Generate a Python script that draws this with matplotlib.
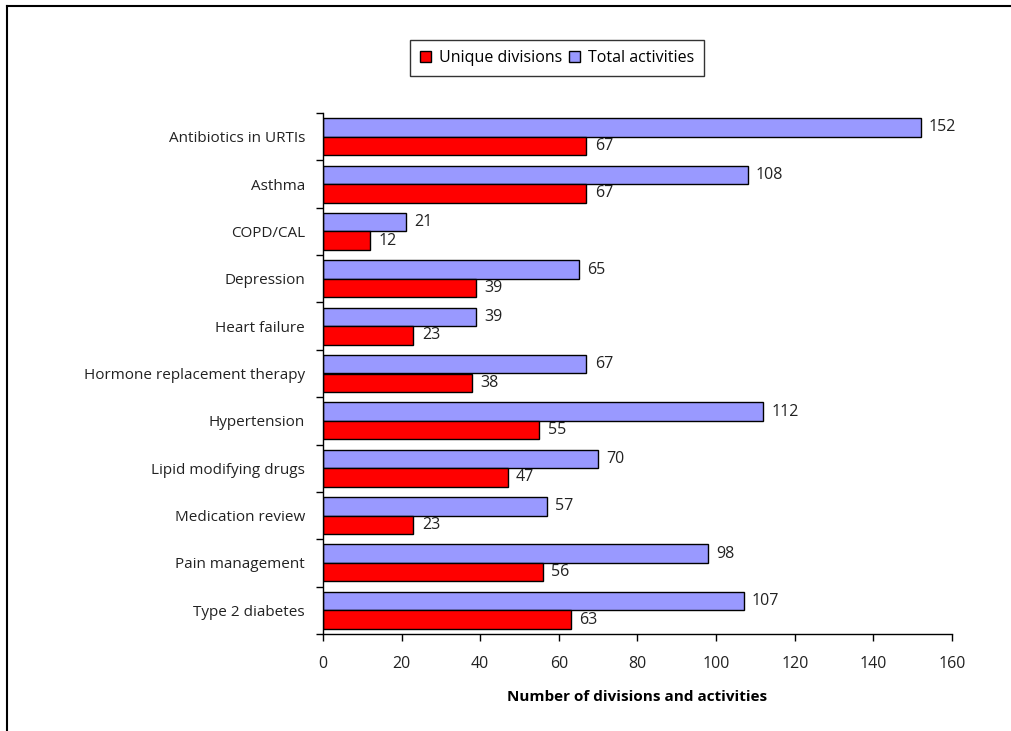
import matplotlib
matplotlib.use("Agg")
import matplotlib.pyplot as plt
from matplotlib.lines import Line2D
from matplotlib.patches import Patch
import numpy as np

categories = [
    "Antibiotics in URTIs",
    "Asthma",
    "COPD/CAL",
    "Depression",
    "Heart failure",
    "Hormone replacement therapy",
    "Hypertension",
    "Lipid modifying drugs",
    "Medication review",
    "Pain management",
    "Type 2 diabetes",
]
total_activities = [152, 108, 21, 65, 39, 67, 112, 70, 57, 98, 107]
unique_divisions = [67, 67, 12, 39, 23, 38, 55, 47, 23, 56, 63]
x_ticks = [0, 20, 40, 60, 80, 100, 120, 140, 160]

plt.rcParams["font.family"] = ["Open Sans", "DejaVu Sans"]
plt.rcParams["font.size"] = 11

W, H = 1012, 731
fig = plt.figure(figsize=(W / 100, H / 100), dpi=100)
ax = fig.add_axes([323 / W, 1 - 634 / H, (952 - 323) / W, (634 - 113) / H])

n = len(categories)
y = np.arange(n)
bh = 0.39
blue = "#9999FF"
red = "#FF0000"
text_col = "#222222"

ax.barh(y - bh / 2, total_activities, height=bh, color=blue, edgecolor="black", linewidth=1.0)
ax.barh(y + bh / 2, unique_divisions, height=bh, color=red, edgecolor="black", linewidth=1.0)

for yi, v in zip(y, total_activities):
    ax.annotate(str(v), (v, yi - bh / 2), xytext=(6, 0), textcoords="offset points",
                va="center", ha="left", fontsize=11.5, color=text_col)
for yi, v in zip(y, unique_divisions):
    ax.annotate(str(v), (v, yi + bh / 2), xytext=(6, 0), textcoords="offset points",
                va="center", ha="left", fontsize=11.5, color=text_col)

ax.set_xlim(0, 160)
ax.set_ylim(n - 0.5, -0.5)
ax.set_xticks(x_ticks)
ax.tick_params(axis="x", direction="out", length=5, width=1, pad=11, labelsize=11.5,
               labelcolor=text_col)

# category boundaries carry the tick marks, centres carry the labels
ax.set_yticks(np.arange(n + 1) - 0.5)
ax.set_yticklabels([])
ax.set_yticks(y, minor=True)
ax.set_yticklabels(categories, minor=True)
ax.tick_params(axis="y", which="major", direction="out", length=5, width=1)
ax.tick_params(axis="y", which="minor", length=0, pad=13, labelsize=11, labelcolor=text_col)

for side in ("top", "right"):
    ax.spines[side].set_visible(False)
for side in ("left", "bottom"):
    ax.spines[side].set_linewidth(1.0)

ax.set_xlabel("Number of divisions and activities", fontsize=11, fontweight="bold",
              labelpad=13)

handles = [
    Patch(facecolor=red, edgecolor="black", linewidth=1.0, label="Unique divisions"),
    Patch(facecolor=blue, edgecolor="black", linewidth=1.0, label="Total activities"),
]
leg = fig.legend(handles=handles, loc="center", bbox_to_anchor=(557 / W, 1 - 58 / H),
                 ncol=2, frameon=True, fancybox=False, edgecolor="black",
                 handlelength=0.7, handleheight=0.7, handletextpad=0.5,
                 columnspacing=0.4, borderpad=0.6, fontsize=11.5)
leg.get_frame().set_linewidth(1.0)

# outer frame lines along the left and top edges
fig.add_artist(Line2D([7 / W, 7 / W], [0, 1 - 6 / H], transform=fig.transFigure,
                      color="black", linewidth=1.5))
fig.add_artist(Line2D([7 / W, 1], [1 - 6 / H, 1 - 6 / H], transform=fig.transFigure,
                      color="black", linewidth=1.5))

fig.savefig("out.png", dpi=100)
